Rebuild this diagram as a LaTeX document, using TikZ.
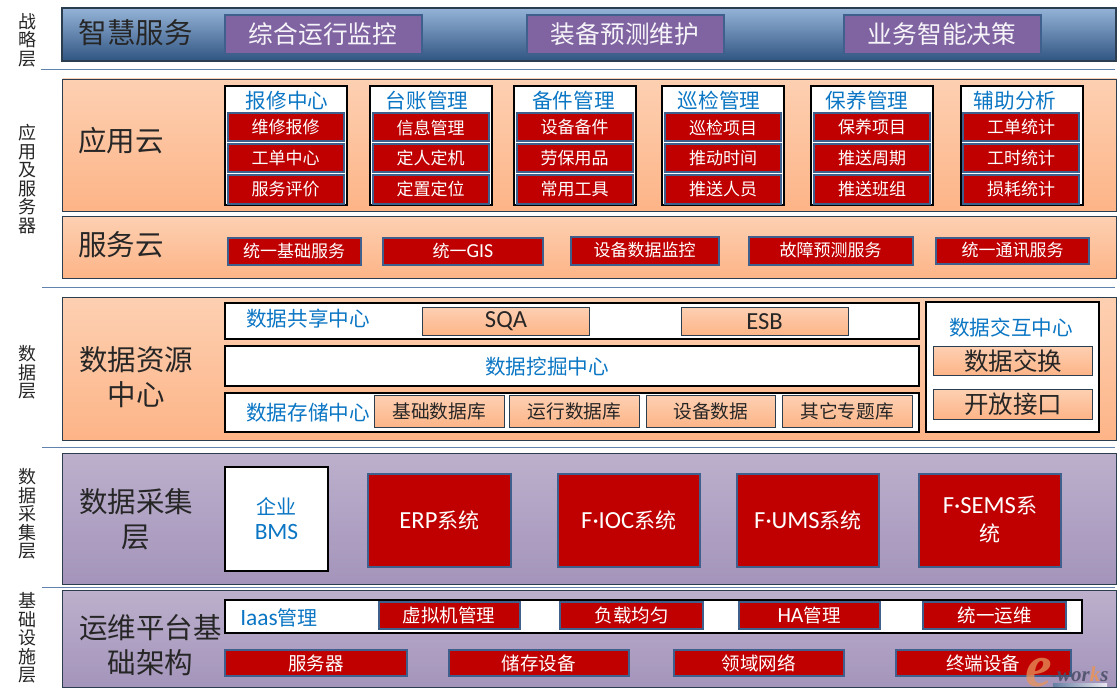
\documentclass[tikz,border=0pt]{standalone}
\usepackage{fontspec}
\setmainfont{Noto Sans CJK SC}
\newfontfamily\logofont{Liberation Serif}
\newfontfamily\latinfont[Scale=1.17]{Carlito}
\usetikzlibrary{positioning}
\definecolor{rim}{HTML}{2B3E50}
\definecolor{itemrim}{HTML}{3F608C}
\definecolor{itemred}{HTML}{C00000}
\definecolor{titleblue}{HTML}{0B76C4}
\definecolor{sepblue}{HTML}{5F82AE}
\definecolor{peachtop}{HTML}{FDD0B2}
\definecolor{peachlow}{HTML}{FDB487}
\definecolor{lilactop}{HTML}{BCB0CC}
\definecolor{lilaclow}{HTML}{A494BB}
\definecolor{skytop}{HTML}{95B3D7}
\definecolor{skymid}{HTML}{4F81BD}
\definecolor{skylow}{HTML}{305582}
\definecolor{plum}{HTML}{8064A2}
\definecolor{logoink}{HTML}{4E5068}
\definecolor{logosun}{HTML}{E8935A}
\tikzset{
	band/.style={
		rectangle,
		anchor=north west,
		outer sep=0pt,
		draw=rim, thick,
		minimum width=1054pt},
	topband/.style={
		band,
		top color=skytop, middle color=skymid, bottom color=skylow,
		line width=2pt},
	peachband/.style={band, top color=peachtop, bottom color=peachlow},
	lilacband/.style={band, top color=lilactop, bottom color=lilaclow},
	bandtitle/.style={
		text=black!85,
		align=center,
		font=\fontsize{28.5}{35}\selectfont},
	sidelabel/.style={
		text=black!85,
		align=center,
		inner sep=0pt,
		font=\fontsize{18}{18.5}\selectfont},
	plumbox/.style={
		rectangle,
		anchor=north west,
		outer sep=0pt,
		fill=plum,
		draw=itemrim, line width=2pt,
		text=white!93!plum,
		minimum height=39pt,
		minimum width=197pt,
		font=\fontsize{24.7}{28}\selectfont},
	panel/.style={
		rectangle,
		anchor=north west,
		outer sep=0pt,
		fill=white,
		draw=black, line width=2pt},
	redbox/.style={
		rectangle,
		anchor=north west,
		outer sep=0pt,
		inner sep=0pt,
		fill=itemred,
		draw=itemrim, line width=2pt,
		text=white,
		align=center,
		font=\fontsize{17}{20}\selectfont},
	rowitem/.style={redbox, minimum width=116pt, minimum height=28pt},
	peachbox/.style={
		rectangle,
		anchor=north west,
		outer sep=0pt,
		inner sep=0pt,
		top color=peachtop, bottom color=peachlow,
		draw=rim,
		text=black!85,
		font=\fontsize{18.7}{22}\selectfont},
	bluetext/.style={
		text=titleblue,
		inner sep=0pt,
		align=center,
		yshift=-1pt,
		font=\fontsize{20.6}{25}\selectfont},
	sepline/.style={draw=sepblue, thick},
	logotext/.style={
		inner sep=0pt,
		font=\logofont\bfseries\itshape\fontsize{21}{21}\selectfont},
}

\begin{document}
\begin{tikzpicture}[x=1pt, y=-1pt, node distance=3pt]
	\useasboundingbox (0,0) rectangle (1117,698);

	% separators
	\coordinate (sepa) at (41,69);   \coordinate (sepA) at (1115,69);
	\coordinate (sepb) at (42,287);  \coordinate (sepB) at (1115,287);
	\coordinate (sepc) at (42,447.5);\coordinate (sepC) at (1115,447.5);
	\coordinate (sepd) at (42,587);  \coordinate (sepD) at (1115,587);
	\draw[sepline] (sepa) -- (sepA);
	\draw[sepline] (sepb) -- (sepB);
	\draw[sepline] (sepc) -- (sepC);
	\draw[sepline] (sepd) -- (sepD);

	% side labels
	\node[sidelabel] (sideone)   at (27,40)    {战\\略\\层};
	\node[sidelabel] (sidetwo)   at (27,179)   {应\\用\\及\\服\\务\\器};
	\node[sidelabel] (sidethree) at (27,372.5) {数\\据\\层};
	\node[sidelabel] (sidefour)  at (27,514)   {数\\据\\采\\集\\层};
	\node[sidelabel] (sidefive)  at (27,638)   {基\\础\\设\\施\\层};

	% bands
	\node[topband, minimum height=53pt]    (strategy) at (62,8) {};
	\node[peachband, minimum height=132pt] (appcloud) at (62.5,79) {};
	\node[peachband, minimum height=62pt]  (svccloud) at (62.5,216) {};
	\node[peachband, minimum height=143pt] (datares)  at (62.5,297) {};
	\node[lilacband, minimum height=131pt] (collect)  at (62.5,453) {};
	\node[lilacband, minimum height=97pt]  (infra)    at (62.5,590) {};

	\node[bandtitle] (strategytitle) at (135.5,33)  {智慧服务};
	\node[bandtitle] (apptitle)      at (121,141)   {应用云};
	\node[bandtitle] (svctitle)      at (121,245)   {服务云};
	\node[bandtitle] (datatitle)     at (136,377.5) {数据资源\\中心};
	\node[bandtitle] (collecttitle)  at (136,519.5) {数据采集\\层};
	\node[bandtitle] (infratitle)    at (150.5,645) {运维平台基\\础架构};

	% strategy layer
	\node[plumbox] (monitor)  at (224.5,15) {综合运行监控};
	\node[plumbox] (predict)  at (526.5,15) {装备预测维护};
	\node[plumbox] (decision) at (843.5,15) {业务智能决策};

	% application cloud
	\node[panel, minimum width=122pt, minimum height=118pt] (repair) at (225,86.5) {};
	\node[bluetext] (repairtitle) at (287,100) {报修中心};
	\node[rowitem] (repaira) at (227.5,113.5) {维修报修};
	\node[rowitem, below=of repaira] (repairb) {工单中心};
	\node[rowitem, below=of repairb] (repairc) {服务评价};

	\node[panel, minimum width=122pt, minimum height=118pt] (ledger) at (370,86.5) {};
	\node[bluetext] (ledgertitle) at (427,100) {台账管理};
	\node[rowitem] (ledgera) at (372.5,113.5) {信息管理};
	\node[rowitem, below=of ledgera] (ledgerb) {定人定机};
	\node[rowitem, below=of ledgerb] (ledgerc) {定置定位};

	\node[panel, minimum width=122pt, minimum height=118pt] (spare) at (514,86.5) {};
	\node[bluetext] (sparetitle) at (573.5,100) {备件管理};
	\node[rowitem] (sparea) at (516.5,113.5) {设备备件};
	\node[rowitem, below=of sparea] (spareb) {劳保用品};
	\node[rowitem, below=of spareb] (sparec) {常用工具};

	\node[panel, minimum width=122pt, minimum height=118pt] (patrol) at (662,86.5) {};
	\node[bluetext] (patroltitle) at (719,100) {巡检管理};
	\node[rowitem] (patrola) at (665,113.5) {巡检项目};
	\node[rowitem, below=of patrola] (patrolb) {推动时间};
	\node[rowitem, below=of patrolb] (patrolc) {推送人员};

	\node[panel, minimum width=122pt, minimum height=118pt] (upkeep) at (811,86.5) {};
	\node[bluetext] (upkeeptitle) at (867,100) {保养管理};
	\node[rowitem] (upkeepa) at (814,113.5) {保养项目};
	\node[rowitem, below=of upkeepa] (upkeepb) {推送周期};
	\node[rowitem, below=of upkeepb] (upkeepc) {推送班组};

	\node[panel, minimum width=122pt, minimum height=118pt] (assist) at (960.5,86.5) {};
	\node[bluetext] (assisttitle) at (1015,100) {辅助分析};
	\node[rowitem] (assista) at (963,113.5) {工单统计};
	\node[rowitem, below=of assista] (assistb) {工时统计};
	\node[rowitem, below=of assistb] (assistc) {损耗统计};

	% service cloud
	\node[redbox, minimum width=133pt, minimum height=27pt] (basics) at (227.5,237.5) {统一基础服务};
	\node[redbox, minimum width=160pt, minimum height=27pt] (gis)    at (383,237.5) {统一{\latinfont GIS}};
	\node[redbox, minimum width=148pt, minimum height=28pt] (watch)  at (570.5,236.5) {设备数据监控};
	\node[redbox, minimum width=164pt, minimum height=28pt] (fault)  at (748.5,236.5) {故障预测服务};
	\node[redbox, minimum width=153pt, minimum height=26pt] (comms)  at (936,237.5) {统一通讯服务};

	% data resource centre
	\node[panel, minimum width=694pt, minimum height=36pt] (shared) at (225,302.5) {};
	\node[bluetext] (sharedtitle) at (308,318) {数据共享中心};
	\node[peachbox, minimum width=167pt, minimum height=28pt, font=\fontsize{21}{25}\selectfont] (sqa) at (422.5,307.5) {\latinfont SQA};
	\node[peachbox, minimum width=167pt, minimum height=28pt, font=\fontsize{21}{25}\selectfont] (esb) at (681,307.5) {\latinfont ESB};

	\node[panel, minimum width=694pt, minimum height=40pt] (mining) at (225,346) {};
	\node[bluetext] (miningtitle) at (547,365.5) {数据挖掘中心};

	\node[panel, minimum width=694pt, minimum height=38.5pt] (store) at (225,393) {};
	\node[bluetext] (storetitle) at (308,412) {数据存储中心};
	\node[peachbox, minimum width=129.5pt, minimum height=32pt] (basedb) at (374.5,395.5) {基础数据库};
	\node[peachbox, minimum width=130pt, minimum height=32pt]   (rundb)  at (509.5,395.5) {运行数据库};
	\node[peachbox, minimum width=129.5pt, minimum height=32pt] (devdb)  at (646,395.5) {设备数据};
	\node[peachbox, minimum width=129.5pt, minimum height=32pt] (topicdb) at (782.5,395.5) {其它专题库};

	\node[panel, minimum width=173pt, minimum height=130pt] (exchange) at (926,302) {};
	\node[bluetext] (exchangetitle) at (1011,327) {数据交互中心};
	\node[peachbox, minimum width=159pt, minimum height=29.5pt, font=\fontsize{24.5}{28}\selectfont] (swap) at (933.5,346) {数据交换};
	\node[peachbox, minimum width=159pt, minimum height=29.5pt, font=\fontsize{24.5}{28}\selectfont] (open) at (933.5,389.5) {开放接口};

	% collection layer
	\node[panel, minimum width=103pt, minimum height=104pt, align=center, text=titleblue, font=\fontsize{20}{25}\selectfont] (bms) at (225,466.5) {企业\\{\latinfont BMS}};
	\node[redbox, minimum width=143pt, minimum height=93pt, font=\fontsize{21}{28}\selectfont] (erp)  at (368,473.5) {{\latinfont ERP}系统};
	\node[redbox, minimum width=142.5pt, minimum height=93pt, font=\fontsize{21}{28}\selectfont] (ioc)  at (557.5,473.5) {{\latinfont F·IOC}系统};
	\node[redbox, minimum width=142pt, minimum height=93pt, font=\fontsize{21}{28}\selectfont] (ums)  at (737,473.5) {{\latinfont F·UMS}系统};
	\node[redbox, minimum width=142pt, minimum height=93pt, font=\fontsize{21}{28}\selectfont] (sems) at (919,473.5) {{\latinfont F·SEMS}系\\统};

	% infrastructure layer
	\node[panel, minimum width=857pt, minimum height=33.5pt] (iaas) at (225,599.5) {};
	\node[bluetext, font=\fontsize{20}{25}\selectfont] (iaastitle) at (279,617) {{\latinfont Iaas}管理};
	\node[redbox, minimum width=141pt, minimum height=27pt, font=\fontsize{18.5}{22}\selectfont] (vmgmt) at (378.5,602) {虚拟机管理};
	\node[redbox, minimum width=143pt, minimum height=27pt, font=\fontsize{18.5}{22}\selectfont] (load)  at (560,602) {负载均匀};
	\node[redbox, minimum width=141pt, minimum height=27pt, font=\fontsize{18.5}{22}\selectfont] (hamgmt) at (738.5,602) {{\latinfont HA}管理};
	\node[redbox, minimum width=143pt, minimum height=27pt, font=\fontsize{18.5}{22}\selectfont] (ops) at (923,602) {统一运维};

	\node[redbox, minimum width=182pt, minimum height=26pt, font=\fontsize{18.5}{22}\selectfont] (server)  at (225,650) {服务器};
	\node[redbox, minimum width=180pt, minimum height=26pt, font=\fontsize{18.5}{22}\selectfont] (storage) at (448.5,650) {储存设备};
	\node[redbox, minimum width=170pt, minimum height=26pt, font=\fontsize{18.5}{22}\selectfont] (network) at (673.5,650) {领域网络};
	\node[redbox, minimum width=175.5pt, minimum height=26pt, font=\fontsize{18.5}{22}\selectfont] (terminal) at (895.5,650) {终端设备};

	% logo
	\node[logotext, anchor=base, font=\logofont\itshape\bfseries\fontsize{60}{60}\selectfont, text=logosun, opacity=.75] (logoe) at (1039,686) {e};
	\node[logotext, text=logoink, anchor=base west, opacity=.9] (logoworks) at (1050,681) {-wor\textcolor{logosun}{k}s};
	\node[rectangle, anchor=north west, inner sep=0pt, left color=itemrim!80, right color=white!70!lilactop, minimum width=54pt, minimum height=3pt] (logobar) at (1053,683) {};
\end{tikzpicture}
\end{document}
